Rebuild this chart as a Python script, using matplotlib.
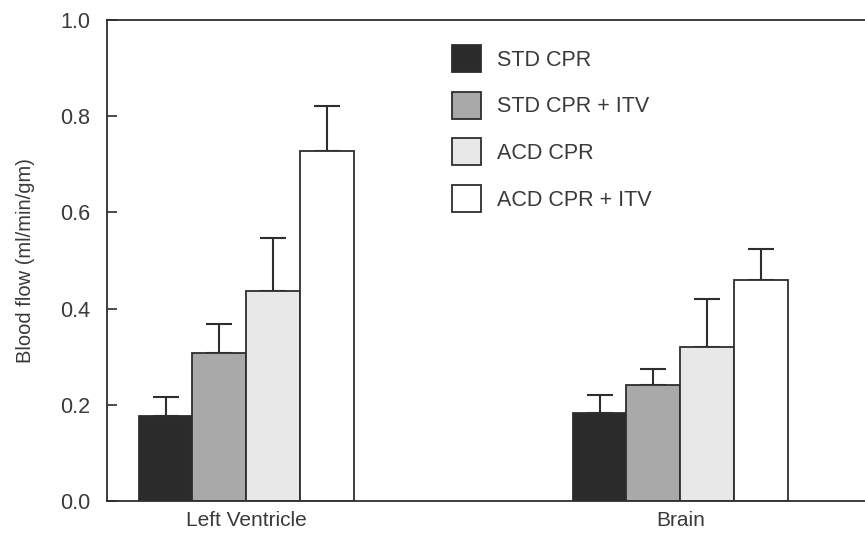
import numpy as np
import matplotlib
matplotlib.use("Agg")
import matplotlib.pyplot as plt
from matplotlib.patches import Patch

# values
groups = ["Left Ventricle", "Brain"]
series = ["STD CPR", "STD CPR + ITV", "ACD CPR", "ACD CPR + ITV"]
std_cpr = [0.177, 0.183]
std_cpr_itv = [0.308, 0.241]
acd_cpr = [0.437, 0.320]
acd_cpr_itv = [0.727, 0.459]
err_std_cpr = [0.040, 0.037]
err_std_cpr_itv = [0.061, 0.033]
err_acd_cpr = [0.109, 0.100]
err_acd_cpr_itv = [0.094, 0.065]

plt.rcParams['font.family'] = ['Liberation Sans', 'DejaVu Sans']
txt = '#3a3a3a'
edge = '#2e2e2e'
colors = ['#2b2b2b', '#a9a9a9', '#e8e8e8', '#ffffff']

fig = plt.figure(figsize=(8.65, 5.34), dpi=100)
ax = fig.add_axes([107/865, 33/534, 760/865, 481/534])

x = np.arange(len(groups))
w = 0.1244
vals = [std_cpr, std_cpr_itv, acd_cpr, acd_cpr_itv]
errs = [err_std_cpr, err_std_cpr_itv, err_acd_cpr, err_acd_cpr_itv]
for i, (v, e, c) in enumerate(zip(vals, errs, colors)):
	pos = x + (i - 1.5) * w
	ax.bar(pos, v, width=w, color=c, edgecolor=edge, linewidth=1.3, zorder=2)
	ax.errorbar(pos, v, yerr=[np.zeros(len(e)), e], fmt='none', ecolor=edge,
		elinewidth=1.5, capsize=9.5, capthick=1.5, zorder=1)

ax.set_xlim(-0.3214, -0.3214 + 760/434)
ax.set_ylim(0, 1.0)
ax.set_yticks([0.0, 0.2, 0.4, 0.6, 0.8, 1.0])
ax.set_yticklabels(['0.0', '0.2', '0.4', '0.6', '0.8', '1.0'])
ax.tick_params(axis='y', direction='in', length=7, width=1.2, pad=12,
	labelsize=15.5, labelcolor=txt, color=edge)
ax.set_xticks(x)
ax.set_xticklabels(groups)
ax.tick_params(axis='x', length=0, pad=7, labelsize=15, labelcolor=txt)
for s in ['left', 'bottom', 'top']:
	ax.spines[s].set_linewidth(1.3)
	ax.spines[s].set_color(edge)
ax.spines['right'].set_visible(False)

ax.set_ylabel('Blood flow (ml/min/gm)', fontsize=14.5, color=txt, labelpad=18)

handles = [Patch(facecolor=c, edgecolor=edge, linewidth=1.3) for c in colors]
fig.legend(handles, series, loc='upper left', bbox_to_anchor=(452/865, 1 - 45/534),
	frameon=False, fontsize=15.5, handlelength=1.35, handleheight=1.57,
	handletextpad=0.74, labelspacing=0.9, borderpad=0, borderaxespad=0,
	labelcolor=txt)

fig.savefig('out.png', dpi=100)
